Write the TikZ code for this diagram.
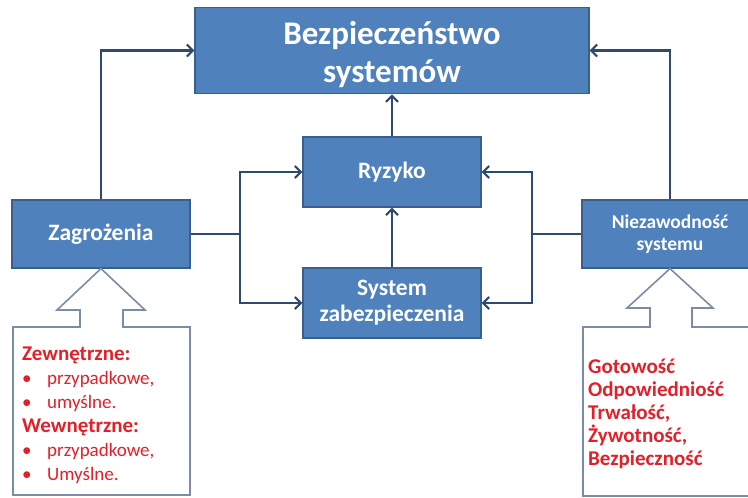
\documentclass[tikz,border=0pt]{standalone}
\usepackage{fontspec}
\setmainfont{Carlito}
\usetikzlibrary{arrows.meta}
\definecolor{boxfill}{HTML}{4F81BD}
\definecolor{boxline}{HTML}{3A5F8C}
\definecolor{conn}{HTML}{2E4A6E}
\definecolor{callline}{HTML}{7A8CA6}
\definecolor{redtxt}{HTML}{E3202A}
\tikzset{
  bluebox/.style={draw=boxline, line width=1.2pt, fill=boxfill, text=white, font=\bfseries, align=center, inner sep=0pt},
  conline/.style={draw=conn, line width=2.6pt},
  conarrow/.style={conline, -{Straight Barb[length=6pt,width=12pt,line width=2.2pt]}},
  callout/.style={draw=callline, line width=1.6pt, fill=white},
  redline/.style={text=redtxt, font=\fontsize{19}{20}\selectfont, anchor=base west, inner sep=0pt},
  redhead/.style={redline, font=\fontsize{21}{22}\selectfont\bfseries},
}
\begin{document}
\begin{tikzpicture}[x=1pt,y=-1pt]
\useasboundingbox (0,0) rectangle (748,498);
\clip (0,0) rectangle (748,498);
% boxes
\node[bluebox, minimum width=394pt, minimum height=75pt, font=\fontsize{33}{38}\selectfont\bfseries] (top) at (392,50.5) {\begin{tabular}{@{}c@{}}\rule{0pt}{37pt}Bezpieczeństwo\\systemów\end{tabular}};
\node[bluebox, minimum width=178pt, minimum height=70pt, font=\fontsize{23.5}{26}\selectfont\bfseries] (ryz) at (392,172) {Ryzyko};
\node[bluebox, minimum width=178pt, minimum height=70pt, font=\fontsize{23.5}{26}\selectfont\bfseries] (sys) at (392,303) {System\\zabezpieczenia};
\node[bluebox, minimum width=178pt, minimum height=68pt, font=\fontsize{23.5}{26}\selectfont\bfseries] (zag) at (101,234) {Zagrożenia};
\node[bluebox, minimum width=176pt, minimum height=68pt, font=\fontsize{19.5}{22.5}\selectfont\bfseries] (nie) at (670,234) {Niezawodność\\systemu};
% junctions
\coordinate (jl) at (240,234);
\coordinate (jr) at (532,234);
% connectors
\draw[conarrow] (zag.north) |- (top.west);
\draw[conarrow] (nie.north) |- (top.east);
\draw[conarrow] (ryz.north) -- (top.south);
\draw[conarrow] (sys.north) -- (ryz.south);
\draw[conline] (zag.east) -- (jl);
\draw[conarrow] (jl) |- (ryz.west);
\draw[conarrow] (jl) |- (sys.west);
\draw[conline] (nie.west) -- (jr);
\draw[conarrow] (jr) |- (ryz.east);
\draw[conarrow] (jr) |- (sys.east);
% callouts
\draw[callout] (13,327) -- (80,327) -- (80,310) -- (57,310) -- (zag.south) -- (145,310) -- (123,310) -- (123,327) -- (190,327) -- (190,495) -- (13,495) -- cycle;
\draw[callout] (583,327) -- (650,327) -- (650,308) -- (627,308) -- (nie.south) -- (713,308) -- (692,308) -- (692,327) -- (760,327) -- (760,496) -- (583,496) -- cycle;
% left texts
\node[redhead] (l1) at (22,360) {Zewnętrzne:};
\node[redline] (l2b) at (22,384) {•};
\node[redline] (l2) at (47,384) {przypadkowe,};
\node[redline] (l3b) at (22,408) {•};
\node[redline] (l3) at (47,408) {umyślne.};
\node[redhead] (l4) at (22,432) {Wewnętrzne:};
\node[redline] (l5b) at (22,456) {•};
\node[redline] (l5) at (47,456) {przypadkowe,};
\node[redline] (l6b) at (22,480) {•};
\node[redline] (l6) at (47,480) {Umyślne.};
% right texts
\node[redhead] (r1) at (588,373) {Gotowość};
\node[redhead] (r2) at (588,396) {Odpowiedniość};
\node[redhead] (r3) at (588,419) {Trwałość,};
\node[redhead] (r4) at (588,442) {Żywotność,};
\node[redhead] (r5) at (588,465) {Bezpieczność};
\end{tikzpicture}
\end{document}
